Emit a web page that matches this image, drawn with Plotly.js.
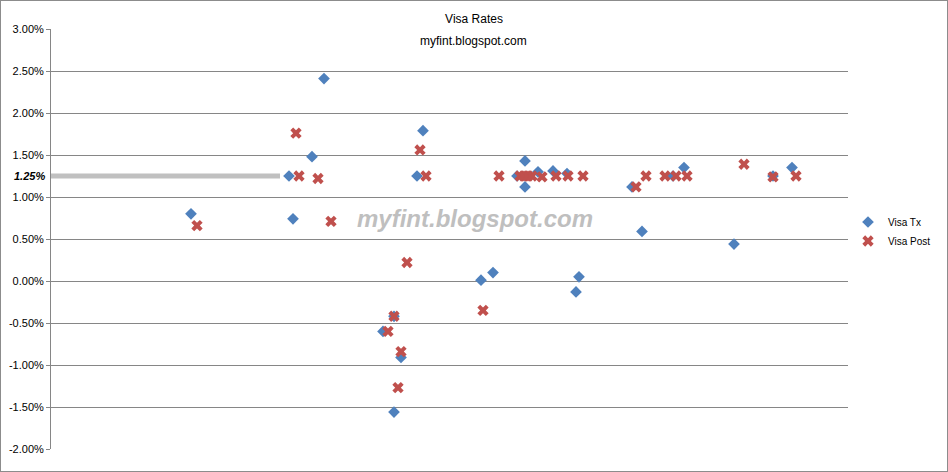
<!DOCTYPE html>
<html><head><meta charset="utf-8">
<script src="https://cdn.plot.ly/plotly-3.0.1.min.js"></script>
<style>
html,body{margin:0;padding:0;background:#fff;}
#chart{width:948px;height:472px;box-sizing:border-box;border:1px solid #8c8c8c;}
</style></head>
<body><div id="chart"></div>
<script>
// x = day index (axis labels hidden), y = rate in %
const txDays  = [140,238,242,261,273,332,343,343,350,366,372,430,442,466,474,474,487,502,516,525,528,581,591,622,633,683,722,741];
const txRates = [0.80,1.25,0.74,1.48,2.41,-0.60,-0.42,-1.56,-0.91,1.25,1.79,0.01,0.10,1.25,1.43,1.12,1.30,1.31,1.28,-0.13,0.05,1.12,0.59,1.25,1.35,0.44,1.25,1.35];
const postDays  = [146,245,248,267,280,337,343,350,347,356,369,375,432,448,469,473,477,481,491,505,517,532,585,595,614,625,636,693,722,745];
const postRates = [0.66,1.76,1.25,1.22,0.71,-0.60,-0.42,-0.84,-1.27,0.22,1.56,1.25,-0.35,1.25,1.25,1.25,1.25,1.25,1.24,1.25,1.25,1.25,1.12,1.25,1.25,1.25,1.25,1.39,1.24,1.25];
const yTicks = [-2.0,-1.5,-1.0,-0.5,0.0,0.5,1.0,1.5,2.0,2.5,3.0];
const refRate = 1.25;
const refLineDays = [0, 229];
const seriesNames = ['Visa Tx','Visa Post'];
const titleText = 'Visa Rates';
const subtitleText = 'myfint.blogspot.com';
const watermark = 'myfint.blogspot.com';

const traces = [
  {x: txDays, y: txRates, name: seriesNames[0], type: 'scatter', mode: 'markers',
   marker: {symbol: 'diamond', size: 9, color: '#4F81BD'}},
  {x: postDays, y: postRates, name: seriesNames[1], type: 'scatter', mode: 'markers',
   marker: {symbol: 'x', size: 10, color: '#C0504D'}}
];

const layout = {
  width: 946, height: 470,
  margin: {l: 50, r: 99, t: 28, b: 22, autoexpand: false},
  paper_bgcolor: '#fff', plot_bgcolor: '#fff',
  font: {family: 'Liberation Sans, Arial, sans-serif', size: 11, color: '#000'},
  title: {text: titleText, xref: 'container', x: 0.5, xanchor: 'center',
          yref: 'container', y: 0.962, yanchor: 'middle',
          font: {size: 12, color: '#000', family: 'Liberation Sans, Arial, sans-serif'}},
  xaxis: {range: [0, 797], showticklabels: false, showgrid: false, zeroline: false,
          showline: false, ticks: ''},
  yaxis: {range: [-2, 3], tickvals: yTicks, ticktext: yTicks.map(v => v.toFixed(2) + '%'),
          showgrid: true, gridcolor: '#868686', gridwidth: 1, zeroline: false,
          showline: true, linecolor: '#868686', ticks: 'outside', ticklen: 4, tickcolor: '#868686',
          tickfont: {size: 11, color: '#000'}},
  showlegend: true,
  legend: {x: 1.0, xanchor: 'left', y: 0.575, yanchor: 'top', font: {size: 10},
           itemwidth: 30, tracegroupgap: 2, bgcolor: 'rgba(0,0,0,0)'},
  shapes: [
    {type: 'line', xref: 'x', yref: 'y', x0: refLineDays[0], x1: refLineDays[1], y0: refRate, y1: refRate,
     line: {color: '#c0c0c0', width: 5}}
  ],
  annotations: [
    {text: subtitleText, xref: 'paper', yref: 'paper', x: 0.53, y: 0.971,
     xanchor: 'center', yanchor: 'middle', showarrow: false, font: {size: 12, color: '#000'}},
    {text: '<b><i>' + refRate.toFixed(2) + '%</i></b>', xref: 'paper', yref: 'y', x: -0.005, y: refRate,
     xanchor: 'right', yanchor: 'middle', showarrow: false, font: {size: 11, color: '#000'}},
    {text: '<b><i>' + watermark + '</i></b>', xref: 'paper', yref: 'y', x: 0.532, y: 0.75,
     xanchor: 'center', yanchor: 'middle', showarrow: false,
     font: {size: 24, color: '#bfbfbf', family: 'Liberation Sans, Arial, sans-serif'}}
  ]
};

Plotly.newPlot('chart', traces, layout, {displayModeBar: false, staticPlot: true});
</script></body></html>
